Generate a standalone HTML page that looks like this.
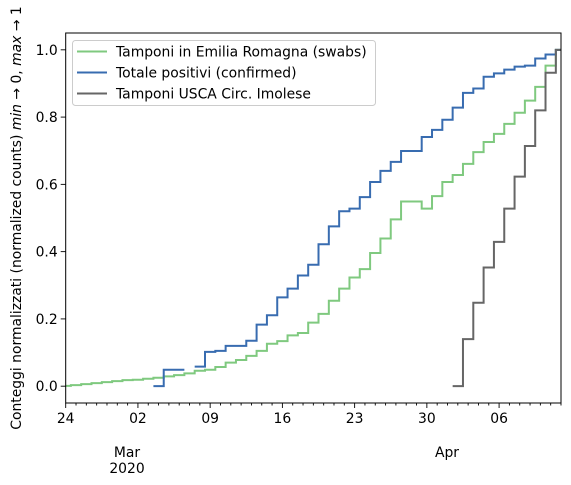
<!DOCTYPE html>
<html><head><meta charset="utf-8">
<style>
html,body{margin:0;padding:0;background:#fff;}
svg{display:block;font-family:"DejaVu Sans","Liberation Sans",sans-serif;}
</style></head>
<body>
<svg id="chart" width="571" height="485" viewBox="0 0 571 485" xmlns="http://www.w3.org/2000/svg">
<defs><clipPath id="plotclip"><rect x="65.7" y="33" width="495.3" height="370"/></clipPath></defs>
<g id="series" clip-path="url(#plotclip)"></g>
<rect x="65.7" y="33" width="495.3" height="370" fill="none" stroke="#000" stroke-width="1"/>
<g id="xaxis"></g>
<g id="yaxis"></g>
<text x="127" y="457" font-size="13.9" text-anchor="middle">Mar</text>
<text x="127" y="473" font-size="13.9" text-anchor="middle">2020</text>
<text x="447" y="457" font-size="13.9" text-anchor="middle">Apr</text>
<text transform="translate(21,218) rotate(-90)" font-size="13.9" text-anchor="middle">Conteggi normalizzati (normalized counts) <tspan font-style="italic">min</tspan> → 0, <tspan font-style="italic">max</tspan> → 1</text>
<g>
<rect x="72.5" y="40.5" width="303" height="65" rx="3" fill="#fff" fill-opacity="0.8" stroke="#ccc" stroke-width="1"/>
<line x1="77" y1="51.5" x2="107" y2="51.5" stroke="#7fc97f" stroke-width="2"/>
<text x="116" y="56.5" font-size="13.9">Tamponi in Emilia Romagna (swabs)</text>
<line x1="77" y1="72.5" x2="107" y2="72.5" stroke="#386cb0" stroke-width="2"/>
<text x="116" y="77.5" font-size="13.9">Totale positivi (confirmed)</text>
<line x1="77" y1="93.5" x2="107" y2="93.5" stroke="#666666" stroke-width="2"/>
<text x="116" y="98.5" font-size="13.9">Tamponi USCA Circ. Imolese</text>
</g>
</svg>
<script>
// Data: day index 0 = 24 Feb 2020
const greenStart = 0;
const greenValues = [0.001,0.003,0.006,0.009,0.012,0.015,0.018,0.019,0.022,0.025,
0.029,0.033,0.038,0.046,0.049,0.057,0.07,0.078,0.09,0.105,
0.126,0.134,0.151,0.158,0.189,0.215,0.254,0.29,0.323,0.348,
0.396,0.439,0.496,0.549,0.549,0.528,0.565,0.607,0.628,0.661,
0.696,0.726,0.75,0.78,0.813,0.849,0.89,0.953,1.0];
const blueStart = 9;
const blueValues = [0,0.049,0.049,null,0.058,0.102,0.105,0.12,0.12,0.135,
0.183,0.211,0.264,0.29,0.329,0.361,0.422,0.475,0.52,0.528,
0.562,0.607,0.64,0.667,0.699,0.699,0.741,0.762,0.792,0.828,
0.872,0.885,0.92,0.93,0.941,0.95,0.953,0.974,0.986,1.0];
const grayStart = 38;
const grayValues = [0,0.14,0.248,0.353,0.429,0.528,0.623,0.714,0.82,0.932,1.0];
const xTickDays = [0,7,14,21,28,35,42];
const xTickLabels = ["24","02","09","16","23","30","06"];
const yTicks = [0,0.2,0.4,0.6,0.8,1.0];
const yTickLabels = ["0.0","0.2","0.4","0.6","0.8","1.0"];

const X0=65.7, X1=561, DMIN=0, DMAX=48;
const Y0=403, Y1=33, VMIN=-0.05, VMAX=1.05;
function xs(d){return X0+(d-DMIN)/(DMAX-DMIN)*(X1-X0);}
function ys(v){return Y0-(v-VMIN)/(VMAX-VMIN)*(Y0-Y1);}
const NS="http://www.w3.org/2000/svg";
const series=document.getElementById('series');
function drawStep(start, vals, color, name){
  let d=""; let open=false;
  for(let i=0;i<vals.length;i++){
    const v=vals[i];
    if(v===null){open=false;continue;}
    const day=start+i;
    const xa=xs(day-0.5), xb=xs(day+0.5), y=ys(v);
    if(!open){d+="M"+xa.toFixed(2)+","+y.toFixed(2);open=true;}
    else{d+="V"+y.toFixed(2);}
    d+="H"+xb.toFixed(2);
  }
  const p=document.createElementNS(NS,'path');
  p.setAttribute('d',d);p.setAttribute('fill','none');
  p.setAttribute('stroke',color);p.setAttribute('stroke-width','2');
  
  
  series.appendChild(p);
}
drawStep(greenStart,greenValues,'#7fc97f','line-swabs');
drawStep(blueStart,blueValues,'#386cb0','line-confirmed');
drawStep(grayStart,grayValues,'#666666','line-usca');

const xa=document.getElementById('xaxis');
for(let d=DMIN; d<=DMAX; d++){
  const l=document.createElementNS(NS,'line');
  const x=xs(d);
  const major=xTickDays.indexOf(d)>=0;
  l.setAttribute('x1',x);l.setAttribute('x2',x);
  l.setAttribute('y1',Y0);l.setAttribute('y2',Y0+(major?5:2.5));
  l.setAttribute('stroke','#000');l.setAttribute('stroke-width','0.9');
  
  
  xa.appendChild(l);
}
xTickDays.forEach((d,i)=>{
  const t=document.createElementNS(NS,'text');
  t.setAttribute('x',xs(d));t.setAttribute('y',423);
  t.setAttribute('font-size','13.9');t.setAttribute('text-anchor','middle');
  t.textContent=xTickLabels[i];
  
  
  xa.appendChild(t);
});
const ya=document.getElementById('yaxis');
yTicks.forEach((v,i)=>{
  const y=ys(v);
  const l=document.createElementNS(NS,'line');
  l.setAttribute('x1',X0-5);l.setAttribute('x2',X0);
  l.setAttribute('y1',y);l.setAttribute('y2',y);
  l.setAttribute('stroke','#000');l.setAttribute('stroke-width','0.9');
  
  
  ya.appendChild(l);
  const t=document.createElementNS(NS,'text');
  t.setAttribute('x',X0-8);t.setAttribute('y',y+5);
  t.setAttribute('font-size','13.9');t.setAttribute('text-anchor','end');
  t.textContent=yTickLabels[i];
  
  
  ya.appendChild(t);
});
</script>
</body></html>
